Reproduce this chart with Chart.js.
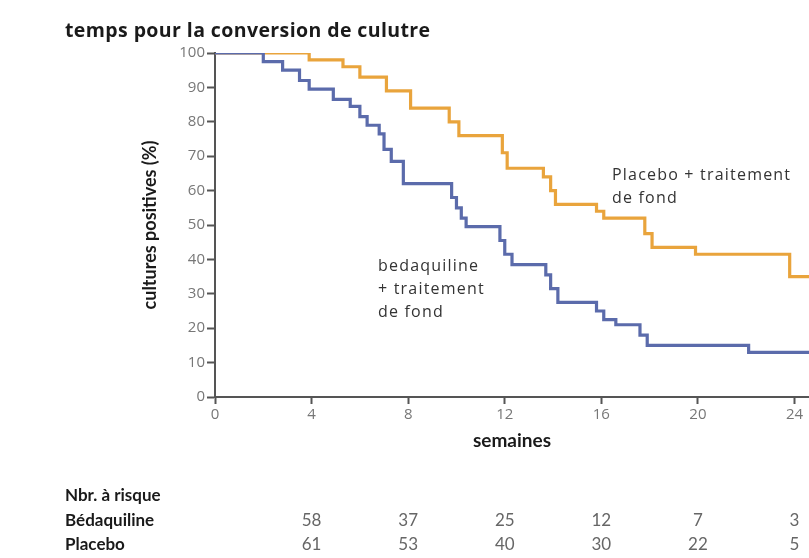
<!DOCTYPE html>
<html>
<head>
<meta charset="utf-8">
<script src="https://cdn.jsdelivr.net/npm/chart.js@4.4.1/dist/chart.umd.min.js"></script>
<style>
  html, body { margin: 0; padding: 0; background: #fff; }
</style>
</head>
<body>
<canvas id="kmChart" width="809" height="558"></canvas>
<script>
// Kaplan-Meier steps: week at which the curve drops, and the % still positive after the drop
const bedaWeeks = [0, 2.0, 2.8, 3.5, 3.9, 4.9, 5.6, 6.0, 6.3, 6.8, 7.0, 7.3, 7.8, 9.8, 10.0, 10.2, 10.4, 11.8, 12.0, 12.3, 13.7, 13.9, 14.2, 15.8, 16.1, 16.6, 17.6, 17.9, 22.1, 24.6];
const bedaPct   = [100, 97.5, 95, 92, 89.5, 86.5, 84.5, 81.5, 79, 76.5, 72, 68.5, 62, 58, 55, 52, 49.5, 45.5, 41.5, 38.5, 35.5, 31.5, 27.5, 25, 22.5, 21, 18, 15, 13, 13];

const placeboWeeks = [0, 3.9, 5.3, 6.0, 7.1, 8.1, 9.7, 10.1, 11.9, 12.1, 13.6, 13.9, 14.1, 15.8, 16.1, 17.8, 18.1, 19.9, 23.8, 24.6];
const placeboPct   = [100, 98, 96, 93, 89, 84, 80, 76, 71, 66.5, 64, 60, 56, 54, 52, 47.5, 43.5, 41.5, 35, 35];

// number at risk table
const riskWeeks = [4, 8, 12, 16, 20, 24];
const riskBeda = [58, 37, 25, 12, 7, 3];
const riskPlacebo = [61, 53, 40, 30, 22, 5];

const toPoints = (xs, ys) => xs.map((x, i) => ({ x: x, y: ys[i] }));

const textPlugin = {
    id: 'kmText',
    afterDraw(chart) {
        const ctx = chart.ctx;
        const xScale = chart.scales.x;
        ctx.save();
        ctx.textBaseline = 'middle';

        // title
        ctx.fillStyle = '#1a1a1a';
        ctx.font = 'bold 19.5px "Open Sans"';
        ctx.letterSpacing = '0.4px';
        ctx.textAlign = 'left';
        ctx.fillText('temps pour la conversion de culutre', 65, 31);

        // curve labels
        ctx.fillStyle = '#333';
        ctx.font = '16px "Open Sans"';
        ctx.letterSpacing = '1.2px';
        ctx.fillText('Placebo + traitement', 612, 175);
        ctx.fillText('de fond', 612, 198);
        ctx.fillText('bedaquiline', 378, 266);
        ctx.fillText('+ traitement', 378, 289);
        ctx.fillText('de fond', 378, 312);
        ctx.letterSpacing = '0px';

        // number at risk
        ctx.fillStyle = '#1a1a1a';
        ctx.font = 'bold 17px Lato';
        ctx.fillText('Nbr. à risque', 65, 496);
        ctx.fillText('Bédaquiline', 65, 521);
        ctx.fillText('Placebo', 65, 545);

        ctx.fillStyle = '#666';
        ctx.font = '17px Lato';
        ctx.textAlign = 'center';
        riskWeeks.forEach((w, i) => {
            const px = xScale.getPixelForValue(w);
            ctx.fillText(String(riskBeda[i]), px, 521);
            ctx.fillText(String(riskPlacebo[i]), px, 545);
        });
        ctx.restore();
    }
};

const kmChart = new Chart(document.getElementById('kmChart').getContext('2d'), {
    type: 'line',
    data: {
        datasets: [{
            label: 'Bédaquiline',
            data: toPoints(bedaWeeks, bedaPct),
            borderColor: '#5b6bab',
            borderWidth: 3.2,
            stepped: 'before',
            pointRadius: 0,
            fill: false
        }, {
            label: 'Placebo',
            data: toPoints(placeboWeeks, placeboPct),
            borderColor: '#e9a43c',
            borderWidth: 3.2,
            stepped: 'before',
            pointRadius: 0,
            fill: false
        }]
    },
    options: {
        responsive: false,
        animation: false,
        devicePixelRatio: 1,
        layout: {
            padding: { top: 53, right: 0, bottom: 106, left: 0 }
        },
        plugins: {
            legend: { display: false },
            tooltip: { enabled: false }
        },
        scales: {
            x: {
                type: 'linear',
                min: 0,
                max: 24.6,
                ticks: {
                    stepSize: 4,
                    includeBounds: false,
                    color: '#777',
                    font: { family: 'Open Sans', size: 15 },
                    padding: 2
                },
                grid: { drawOnChartArea: false, tickLength: 7, tickColor: '#555', tickWidth: 2 },
                border: { color: '#555', width: 2 },
                title: {
                    display: true,
                    text: 'semaines',
                    color: '#1a1a1a',
                    font: { family: 'Lato', weight: 'bold', size: 19 },
                    padding: 0
                },
                afterFit(scale) { scale.height = 55; }
            },
            y: {
                min: 0,
                max: 100,
                ticks: {
                    stepSize: 10,
                    color: '#777',
                    font: { family: 'Open Sans', size: 15 },
                    padding: 2
                },
                grid: { drawOnChartArea: false, tickLength: 8, tickColor: '#555', tickWidth: 2 },
                border: { color: '#555', width: 2 },
                title: {
                    display: true,
                    text: 'cultures positives (%)',
                    color: '#1a1a1a',
                    font: { family: 'Lato', weight: 'bold', size: 18 },
                    padding: { top: 139, bottom: 0 }
                },
                afterFit(scale) { scale.width = 215; }
            }
        }
    },
    plugins: [textPlugin]
});
</script>
</body>
</html>
